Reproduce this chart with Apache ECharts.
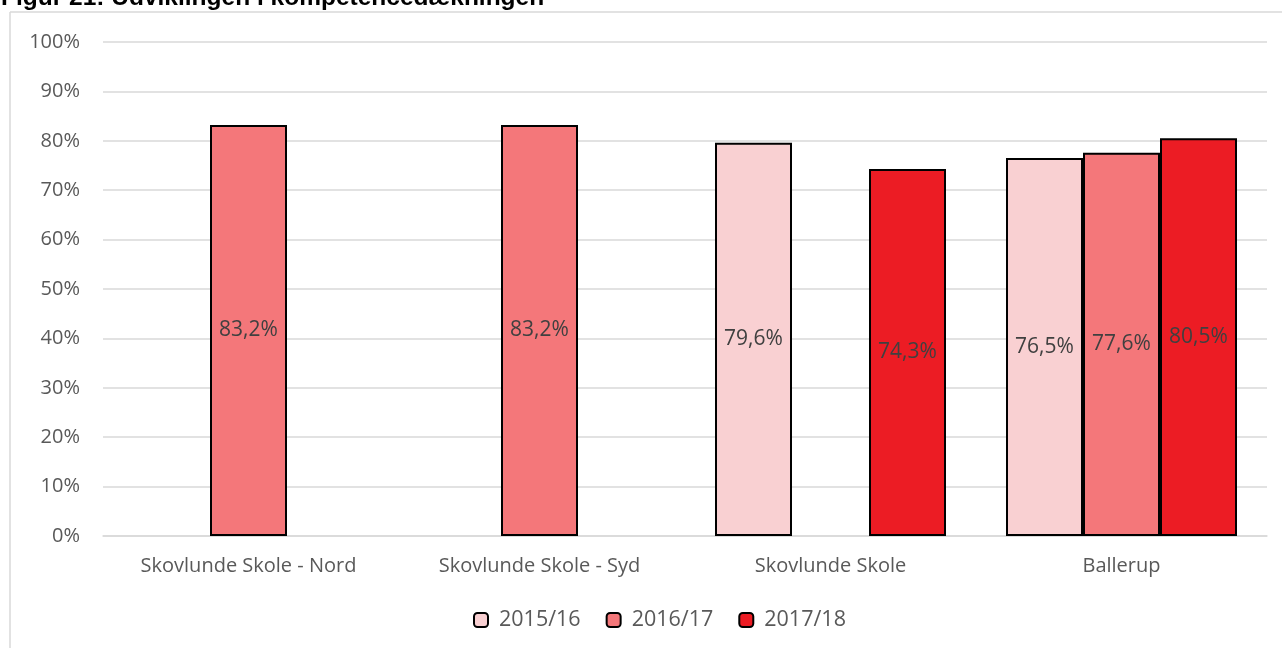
<!DOCTYPE html>
<html>
<head>
<meta charset="utf-8">
<script src="https://cdn.jsdelivr.net/npm/echarts@6/dist/echarts.min.js"></script>
<style>
html,body{margin:0;padding:0;background:#fff;}
#c{width:1282px;height:648px;}
</style>
</head>
<body>
<div id="c"></div>
<script>
const categories = ['Skovlunde Skole - Nord', 'Skovlunde Skole - Syd', 'Skovlunde Skole', 'Ballerup'];
const seriesNames = ['2015/16', '2016/17', '2017/18'];
const values1516 = [null, null, 79.6, 76.5];
const values1617 = [83.2, 83.2, null, 77.6];
const values1718 = [null, null, 74.3, 80.5];
const colors = ['#F9D0D2', '#F4777A', '#EC1C24'];
const yTicks = [0, 10, 20, 30, 40, 50, 60, 70, 80, 90, 100];
const titleText = 'Figur 21: Udviklingen i kompetencedækningen';

const fmt = v => v.toFixed(1).replace('.', ',') + '%';
const font = '"Open Sans", "Noto Sans", sans-serif';

const chart = echarts.init(document.getElementById('c'), null, {renderer: 'canvas'});
const allVals = [values1516, values1617, values1718];

chart.setOption({
  animation: false,
  backgroundColor: '#fff',
  graphic: [
    {type: 'line', shape: {x1: 10, y1: 12, x2: 1282, y2: 12}, style: {stroke: '#D9D9D9', lineWidth: 1.5}, silent: true, z: 1},
    {type: 'line', shape: {x1: 10, y1: 12, x2: 10, y2: 648}, style: {stroke: '#D9D9D9', lineWidth: 1.5}, silent: true, z: 1},
    {type: 'text', left: 1, top: -14, style: {text: titleText, fontFamily: 'Arial, "Liberation Sans", sans-serif', fontWeight: 'bold', fontSize: 24.5, fill: '#000'}, silent: true, z: 2}
  ],
  legend: {
    data: seriesNames,
    top: 609,
    left: 473,
    padding: 0,
    itemWidth: 14,
    itemHeight: 14,
    itemGap: 25,
    textStyle: {fontFamily: font, fontSize: 21.5, color: '#595959', padding: [0, 0, 0, 6]},
    itemStyle: {borderColor: '#000', borderWidth: 2}
  },
  grid: {left: 103, right: 15, top: 42, bottom: 112, containLabel: false},
  xAxis: {
    type: 'category',
    data: categories,
    axisLine: {lineStyle: {color: '#D9D9D9', width: 1.5}},
    axisTick: {show: false},
    axisLabel: {fontFamily: font, fontSize: 20, color: '#595959', margin: 20}
  },
  yAxis: {
    type: 'value',
    min: 0, max: 100, interval: 10,
    axisLine: {show: false},
    axisTick: {show: false},
    splitLine: {lineStyle: {color: '#D9D9D9', width: 1.5}},
    axisLabel: {fontFamily: font, fontSize: 20, color: '#595959', margin: 23, formatter: v => yTicks.includes(v) ? v + '%' : ''}
  },
  series: seriesNames.map((name, i) => ({
    name: name,
    type: 'bar',
    data: allVals[i],
    barWidth: 77,
    barGap: '0%',
    itemStyle: {color: colors[i], borderColor: '#000', borderWidth: 2},
    label: {
      show: true,
      position: 'inside',
      fontFamily: font,
      fontSize: 21,
      color: '#404040',
      formatter: p => p.value == null ? '' : fmt(p.value)
    }
  }))
});
</script>
</body>
</html>
